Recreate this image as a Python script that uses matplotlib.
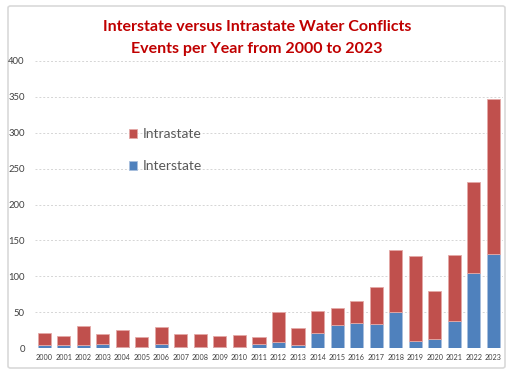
import matplotlib
matplotlib.use("Agg")
import matplotlib.pyplot as plt
from matplotlib.patches import FancyBboxPatch
import numpy as np

years = [str(y) for y in range(2000, 2024)]
interstate = [4, 4, 4, 5, 2, 1, 6, 1, 1, 2, 2, 5, 9, 4, 21, 32, 35, 33, 50, 10, 12, 38, 104, 131]
totals = [21, 17, 30, 20, 25, 15, 29, 20, 20, 17, 18, 16, 50, 28, 52, 56, 65, 85, 137, 128, 79, 129, 231, 347]
intrastate = [t - i for t, i in zip(totals, interstate)]
yticks = [0, 50, 100, 150, 200, 250, 300, 350, 400]

red = "#C0504D"
blue = "#4F81BD"
font = ["Lato", "DejaVu Sans"]

fig = plt.figure(figsize=(5.09, 3.73), dpi=100)
fig.patch.set_facecolor("white")
box = FancyBboxPatch((8/509, 5/373), 497/509, 362/373, boxstyle="round,pad=0,rounding_size=0.005",
                     transform=fig.transFigure, facecolor="white", edgecolor="#D9D9D9", linewidth=1.2,
                     zorder=-10)
fig.patches.append(box)

ax = fig.add_axes([34.5/509, 1 - 348/373, (503 - 34.5)/509, (348 - 61)/373])
ax.set_facecolor("none")
x = np.arange(len(years))
w = 0.67
ax.bar(x, interstate, w, color=blue, edgecolor="#A9C0DE", linewidth=0.6, label="Interstate", zorder=3)
ax.bar(x, intrastate, w, bottom=interstate, color=red, edgecolor="#E4A9A7", linewidth=0.6, label="Intrastate", zorder=3)

ax.set_xlim(-0.5, len(years) - 0.5)
ax.set_ylim(0, 400)
ax.set_yticks(yticks)
ax.set_xticks(x)
ax.set_xticklabels(years, fontsize=5.2, color="#404040", family=font)
ax.set_yticklabels([str(v) for v in yticks], fontsize=6.8, color="#404040", family=font)
ax.tick_params(length=0, pad=4)
ax.tick_params(axis="y", pad=7)
for s in ax.spines.values():
    s.set_visible(False)
ax.grid(axis="y", linestyle=(0, (2, 2)), color="#D5D5D5", linewidth=0.7, zorder=0)
ax.set_axisbelow(True)

h, l = ax.get_legend_handles_labels()
leg = ax.legend(h[::-1], l[::-1], loc="upper left", bbox_to_anchor=(0.175, 0.81), frameon=False,
                prop={"family": font, "size": 10}, handlelength=0.6, handleheight=0.6,
                labelspacing=1.45, handletextpad=0.4)
for t in leg.get_texts():
    t.set_color("#595959")

fig.text(257/509, 1 - 27/373, "Interstate versus Intrastate Water Conflicts", ha="center", va="center",
         color="#C00000", fontsize=11.5, fontweight="bold", family=font)
fig.text(257/509, 1 - 49/373, "Events per Year from 2000 to 2023", ha="center", va="center",
         color="#C00000", fontsize=11.5, fontweight="bold", family=font)

fig.savefig("out.png", dpi=100)
